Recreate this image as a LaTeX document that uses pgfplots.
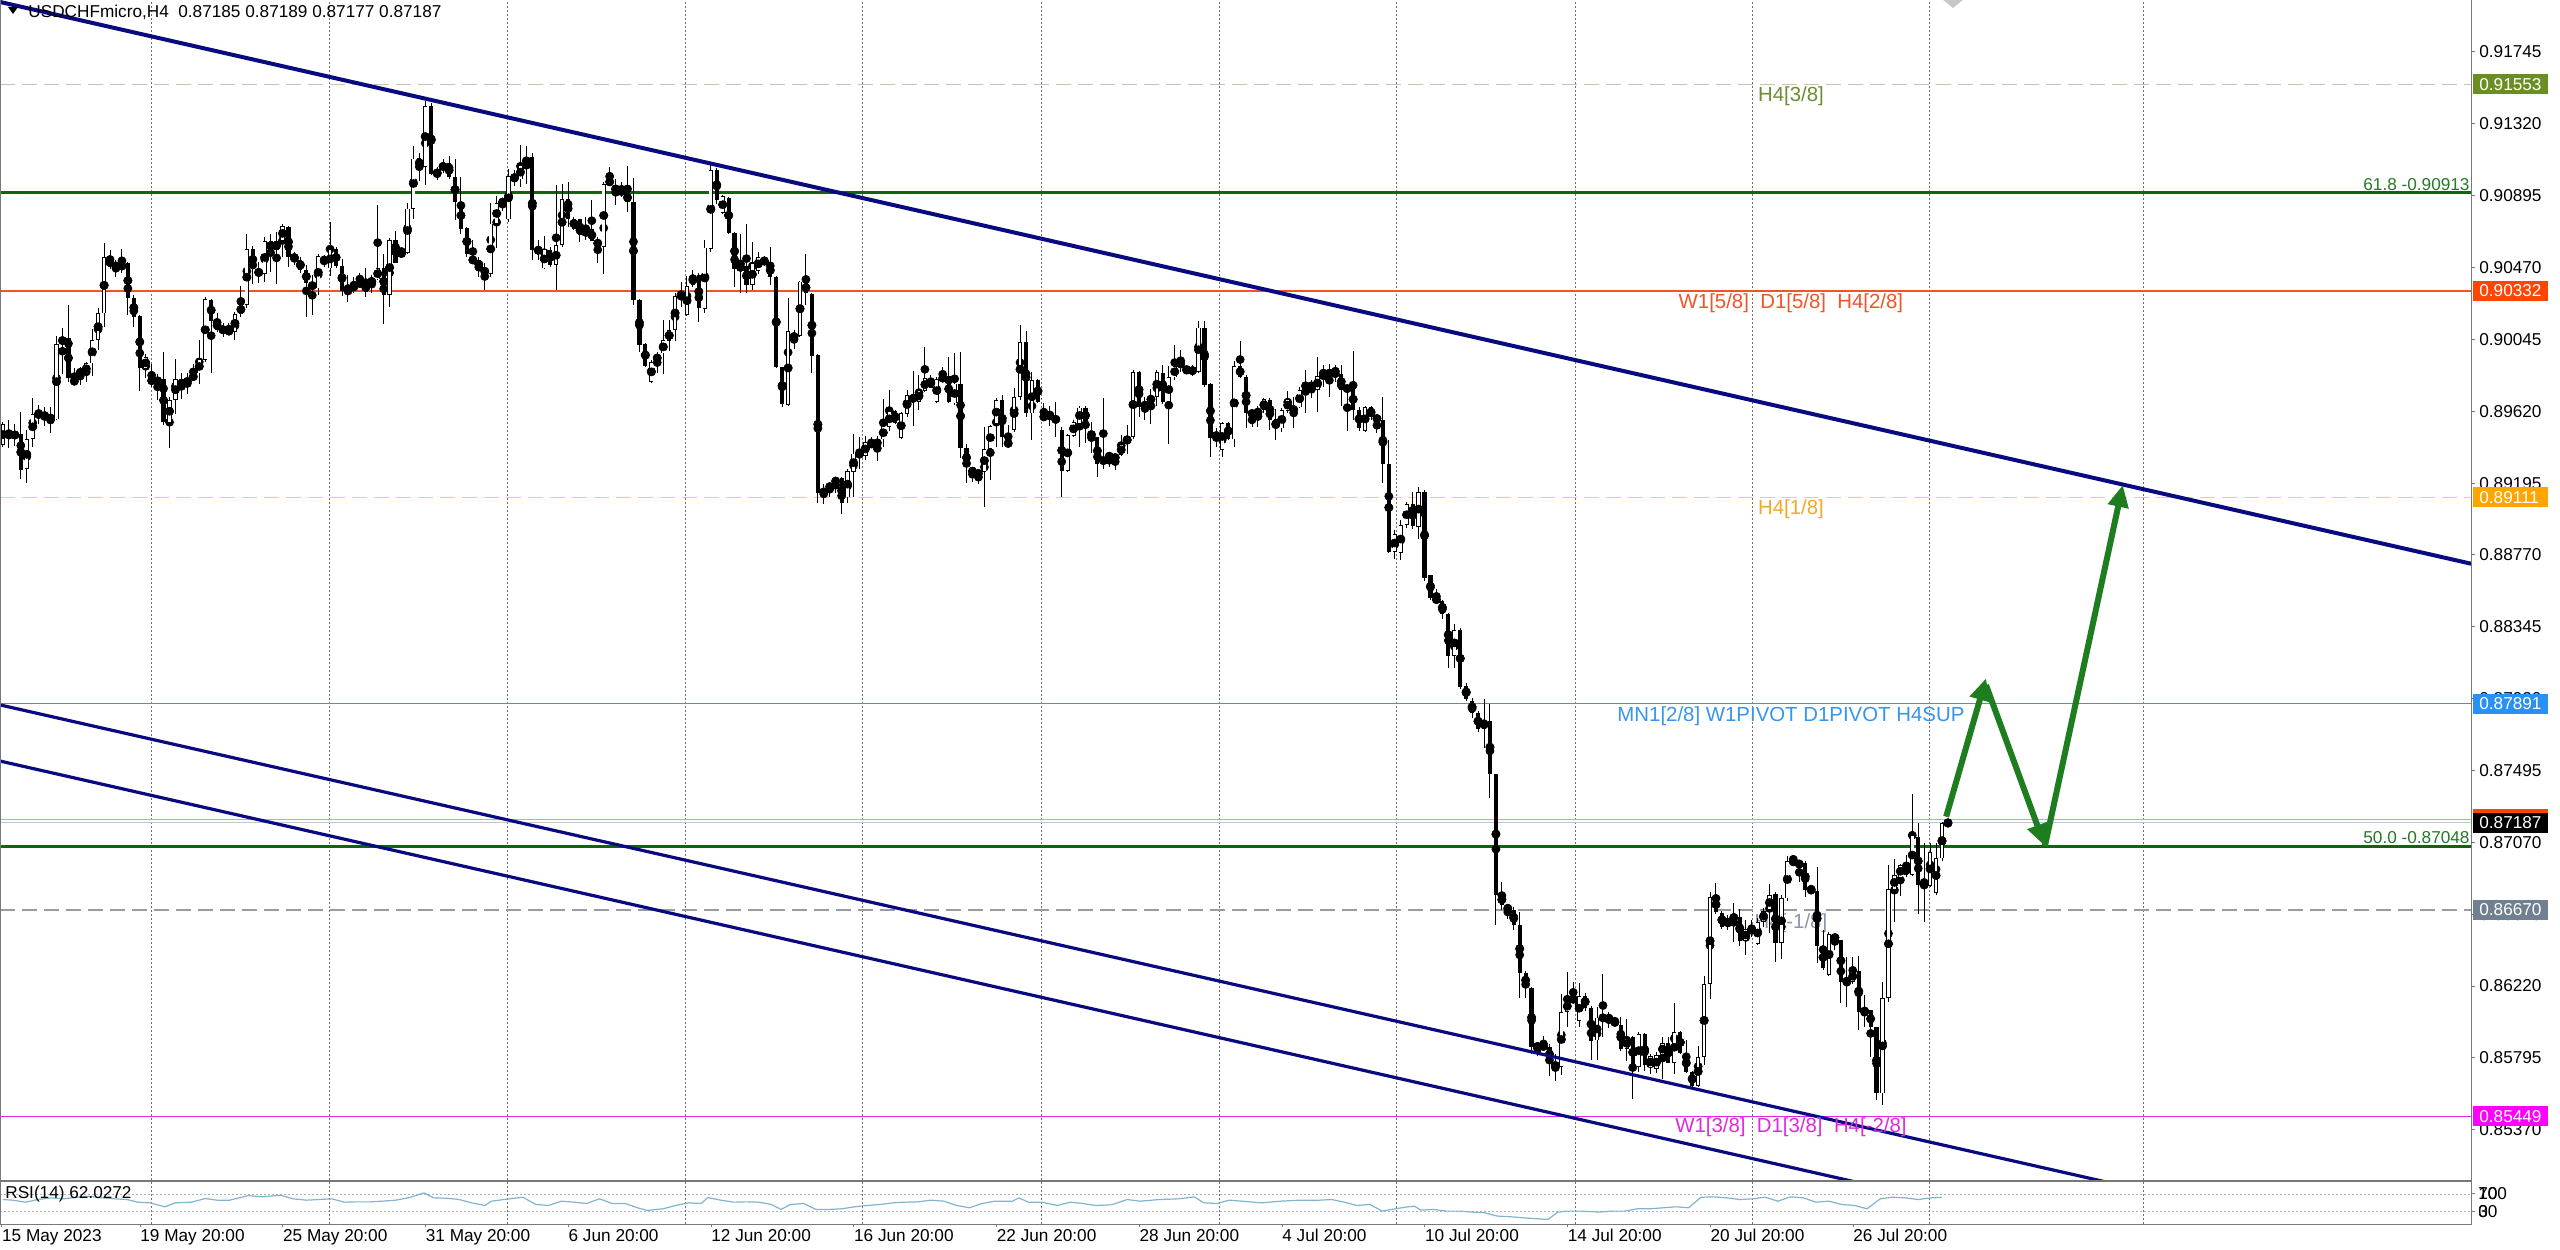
\documentclass[border=0pt]{standalone}
\usepackage{fontspec}
\setmainfont{Liberation Sans}
\usepackage{pgfplots}
\pgfplotsset{compat=1.18}
\usepackage{pgfplotstable}
\usetikzlibrary{arrows.meta}

\definecolor{navyline}{RGB}{10,10,128}
\definecolor{fibgreen}{RGB}{18,100,18}
\definecolor{fibtext}{RGB}{40,120,40}
\definecolor{lvlorange}{RGB}{240,85,40}
\definecolor{lvlyellow}{RGB}{245,205,120}
\definecolor{lvlbeige}{RGB}{200,196,172}
\definecolor{lvlblue}{RGB}{55,150,235}
\definecolor{lvlgrey}{RGB}{150,155,165}
\definecolor{lvlmag}{RGB}{225,40,225}
\definecolor{olivebox}{RGB}{107,142,35}
\definecolor{olivetext}{RGB}{110,140,50}
\definecolor{orangered}{RGB}{255,69,0}
\definecolor{orangebox}{RGB}{255,165,0}
\definecolor{orangetext}{RGB}{240,170,40}
\definecolor{bluebox}{RGB}{40,145,245}
\definecolor{slatebox}{RGB}{112,128,144}
\definecolor{slatetext}{RGB}{140,150,170}
\definecolor{magbox}{RGB}{255,0,255}
\definecolor{rsiblue}{RGB}{130,180,205}
\definecolor{arrowgreen}{RGB}{30,125,30}
\definecolor{gridgrey}{RGB}{110,110,110}
\definecolor{framegrey}{RGB}{120,120,120}

\newcommand\tf{\fontsize{8.6}{10}\selectfont}
\newcommand\lf{\fontsize{10.2}{12}\selectfont}

\pgfplotstableread{
i o h l c
0 0.89420 0.89558 0.89411 0.89545
1 0.89480 0.89572 0.89407 0.89482
2 0.89480 0.89545 0.89415 0.89484
3 0.89486 0.89618 0.89217 0.89273
4 0.89277 0.89509 0.89194 0.89454
5 0.89456 0.89697 0.89407 0.89602
6 0.89602 0.89657 0.89545 0.89612
7 0.89604 0.89647 0.89533 0.89584
8 0.89584 0.89647 0.89489 0.89578
9 0.89572 0.90065 0.89568 0.90018
10 0.90018 0.90111 0.89840 0.90057
11 0.90057 0.90249 0.89795 0.89815
12 0.89815 0.89880 0.89773 0.89781
13 0.89858 0.89884 0.89773 0.89842
14 0.89840 0.89913 0.89795 0.89903
15 0.89903 0.90105 0.89829 0.90041
16 0.90041 0.90229 0.89982 0.90199
17 0.90199 0.90617 0.90116 0.90530
18 0.90530 0.90574 0.90465 0.90471
19 0.90501 0.90519 0.90416 0.90456
20 0.90456 0.90584 0.90440 0.90501
21 0.90499 0.90505 0.90189 0.90288
22 0.90288 0.90308 0.90120 0.90180
23 0.90184 0.90189 0.89742 0.89878
24 0.89874 0.89959 0.89815 0.89939
25 0.89815 0.89903 0.89766 0.89789
26 0.89785 0.89840 0.89691 0.89815
27 0.89815 0.89969 0.89539 0.89558
28 0.89553 0.89706 0.89407 0.89687
29 0.89687 0.89933 0.89604 0.89811
30 0.89811 0.89844 0.89691 0.89756
31 0.89789 0.89848 0.89722 0.89805
32 0.89809 0.89903 0.89805 0.89844
33 0.89844 0.90041 0.89785 0.89927
34 0.89923 0.90294 0.89913 0.90282
35 0.90282 0.90286 0.89848 0.90156
36 0.90156 0.90203 0.90091 0.90105
37 0.90105 0.90144 0.90061 0.90099
38 0.90101 0.90144 0.90071 0.90087
39 0.90087 0.90209 0.90041 0.90193
40 0.90193 0.90361 0.90180 0.90252
41 0.90249 0.90668 0.90229 0.90578
42 0.90578 0.90598 0.90373 0.90460
43 0.90452 0.90505 0.90377 0.90432
44 0.90432 0.90653 0.90387 0.90629
45 0.90629 0.90672 0.90446 0.90574
46 0.90574 0.90682 0.90373 0.90629
47 0.90629 0.90728 0.90534 0.90716
48 0.90712 0.90716 0.90475 0.90534
49 0.90544 0.90564 0.90485 0.90515
50 0.90515 0.90534 0.90440 0.90456
51 0.90456 0.90485 0.90180 0.90381
52 0.90381 0.90426 0.90189 0.90347
53 0.90347 0.90550 0.90308 0.90538
54 0.90538 0.90544 0.90475 0.90491
55 0.90465 0.90741 0.90420 0.90578
56 0.90584 0.90594 0.90465 0.90479
57 0.90483 0.90523 0.90302 0.90333
58 0.90337 0.90426 0.90268 0.90329
59 0.90337 0.90416 0.90318 0.90377
60 0.90375 0.90440 0.90367 0.90379
61 0.90327 0.90465 0.90298 0.90377
62 0.90377 0.90426 0.90318 0.90400
63 0.90400 0.90840 0.90396 0.90469
64 0.90471 0.90554 0.90136 0.90308
65 0.90308 0.90643 0.90235 0.90633
66 0.90633 0.90688 0.90495 0.90499
67 0.90544 0.90594 0.90538 0.90564
68 0.90560 0.90850 0.90554 0.90820
69 0.90820 0.91189 0.90761 0.91116
70 0.91116 0.91150 0.90984 0.91063
71 0.91063 0.91457 0.90956 0.91426
72 0.91426 0.91445 0.91018 0.91023
73 0.91008 0.91063 0.90988 0.91051
74 0.91047 0.91110 0.91027 0.91090
75 0.91090 0.91130 0.90992 0.91004
76 0.91004 0.91110 0.90751 0.90860
77 0.90860 0.91008 0.90669 0.90696
78 0.90702 0.90712 0.90534 0.90550
79 0.90519 0.90633 0.90499 0.90513
80 0.90515 0.90531 0.90416 0.90465
81 0.90465 0.90499 0.90337 0.90432
82 0.90432 0.90854 0.90416 0.90732
83 0.90732 0.90893 0.90584 0.90850
84 0.90850 0.90885 0.90807 0.90866
85 0.90755 0.91051 0.90741 0.91012
86 0.91012 0.91047 0.90952 0.90992
87 0.90992 0.91195 0.90945 0.91077
88 0.91077 0.91189 0.90964 0.91126
89 0.91126 0.91150 0.90515 0.90574
90 0.90574 0.90633 0.90515 0.90570
91 0.90465 0.90657 0.90460 0.90578
92 0.90578 0.90594 0.90475 0.90485
93 0.90485 0.90958 0.90337 0.90603
94 0.90603 0.90968 0.90594 0.90874
95 0.90879 0.90978 0.90712 0.90761
96 0.90761 0.90771 0.90692 0.90702
97 0.90755 0.90761 0.90623 0.90663
98 0.90663 0.90767 0.90633 0.90696
99 0.90696 0.90870 0.90625 0.90629
100 0.90633 0.90653 0.90499 0.90598
101 0.90594 0.90978 0.90432 0.90964
102 0.90964 0.91063 0.90958 0.90992
103 0.90942 0.90992 0.90840 0.90929
104 0.90923 0.90978 0.90889 0.90917
105 0.90909 0.91071 0.90801 0.90860
106 0.90860 0.90998 0.90249 0.90278
107 0.90278 0.90288 0.89973 0.90012
108 0.90018 0.90022 0.89884 0.89888
109 0.89795 0.89923 0.89791 0.89913
110 0.89913 0.89973 0.89844 0.89959
111 0.89963 0.90160 0.89840 0.90041
112 0.90038 0.90160 0.89978 0.90101
113 0.90101 0.90318 0.90038 0.90302
114 0.90304 0.90387 0.90235 0.90300
115 0.90189 0.90420 0.90183 0.90361
116 0.90367 0.90456 0.90357 0.90426
117 0.90426 0.90436 0.90150 0.90229
118 0.90229 0.90633 0.90199 0.90590
119 0.90584 0.91077 0.90564 0.91047
120 0.91047 0.91057 0.90846 0.90874
121 0.90791 0.90899 0.90787 0.90893
122 0.90885 0.90889 0.90672 0.90676
123 0.90676 0.90682 0.90353 0.90459
124 0.90473 0.90668 0.90318 0.90469
125 0.90479 0.90728 0.90318 0.90367
126 0.90367 0.90623 0.90337 0.90495
127 0.90452 0.90564 0.90432 0.90534
128 0.90534 0.90538 0.90479 0.90485
129 0.90495 0.90594 0.90367 0.90416
130 0.90416 0.90420 0.89874 0.89884
131 0.89884 0.89884 0.89647 0.89663
132 0.89657 0.90288 0.89651 0.90097
133 0.90065 0.90101 0.89992 0.90059
134 0.90067 0.90392 0.90061 0.90387
135 0.90387 0.90554 0.90249 0.90318
136 0.90314 0.90318 0.89848 0.89947
137 0.89953 0.89959 0.89079 0.89135
138 0.89131 0.89194 0.89071 0.89158
139 0.89154 0.89204 0.89115 0.89194
140 0.89194 0.89233 0.89135 0.89223
141 0.89223 0.89229 0.89012 0.89076
142 0.89111 0.89282 0.89076 0.89269
143 0.89263 0.89489 0.89115 0.89371
144 0.89369 0.89470 0.89282 0.89365
145 0.89355 0.89474 0.89332 0.89440
146 0.89440 0.89466 0.89401 0.89415
147 0.89415 0.89474 0.89328 0.89454
148 0.89454 0.89696 0.89411 0.89533
149 0.89529 0.89746 0.89505 0.89624
150 0.89624 0.89631 0.89545 0.89549
151 0.89460 0.89618 0.89454 0.89608
152 0.89608 0.89746 0.89588 0.89716
153 0.89716 0.89860 0.89533 0.89677
154 0.89677 0.89834 0.89627 0.89742
155 0.89742 0.90002 0.89736 0.89815
156 0.89815 0.89834 0.89756 0.89762
157 0.89677 0.89825 0.89671 0.89809
158 0.89805 0.89884 0.89795 0.89829
159 0.89829 0.89939 0.89671 0.89677
160 0.89667 0.89967 0.89657 0.89785
161 0.89785 0.89972 0.89342 0.89401
162 0.89401 0.89430 0.89194 0.89292
163 0.89288 0.89292 0.89204 0.89243
164 0.89243 0.89269 0.89194 0.89263
165 0.89263 0.89529 0.89052 0.89395
166 0.89395 0.89539 0.89213 0.89533
167 0.89545 0.89702 0.89411 0.89687
168 0.89687 0.89716 0.89411 0.89470
169 0.89407 0.89539 0.89401 0.89454
170 0.89509 0.89756 0.89499 0.89706
171 0.89706 0.90130 0.89687 0.90032
172 0.90032 0.90097 0.89588 0.89608
173 0.89608 0.89854 0.89450 0.89805
174 0.89805 0.89809 0.89667 0.89677
175 0.89572 0.89667 0.89564 0.89604
176 0.89600 0.89651 0.89533 0.89596
177 0.89588 0.89677 0.89470 0.89558
178 0.89509 0.89529 0.89115 0.89269
179 0.89269 0.89489 0.89263 0.89480
180 0.89474 0.89568 0.89470 0.89558
181 0.89549 0.89651 0.89411 0.89643
182 0.89643 0.89651 0.89430 0.89549
183 0.89499 0.89558 0.89371 0.89466
184 0.89466 0.89470 0.89233 0.89308
185 0.89308 0.89697 0.89282 0.89348
186 0.89357 0.89367 0.89292 0.89353
187 0.89332 0.89371 0.89273 0.89361
188 0.89361 0.89480 0.89355 0.89426
189 0.89426 0.89539 0.89367 0.89474
190 0.89470 0.89864 0.89454 0.89854
191 0.89854 0.89860 0.89584 0.89643
192 0.89637 0.89706 0.89568 0.89677
193 0.89677 0.89756 0.89549 0.89706
194 0.89706 0.89864 0.89651 0.89854
195 0.89848 0.89894 0.89663 0.89677
196 0.89677 0.89888 0.89426 0.89821
197 0.89821 0.90012 0.89805 0.89888
198 0.89888 0.89986 0.89854 0.89913
199 0.89854 0.89894 0.89840 0.89874
200 0.89868 0.89894 0.89829 0.89854
201 0.89854 0.90156 0.89848 0.90116
202 0.90116 0.90156 0.89762 0.89775
203 0.89781 0.89785 0.89348 0.89466
204 0.89466 0.89519 0.89411 0.89486
205 0.89391 0.89558 0.89348 0.89553
206 0.89553 0.89558 0.89450 0.89454
207 0.89454 0.89919 0.89411 0.89888
208 0.89888 0.90038 0.89815 0.89821
209 0.89821 0.89834 0.89519 0.89608
210 0.89610 0.89612 0.89529 0.89606
211 0.89604 0.89651 0.89529 0.89627
212 0.89627 0.89702 0.89612 0.89691
213 0.89691 0.89697 0.89513 0.89572
214 0.89572 0.89631 0.89450 0.89519
215 0.89519 0.89637 0.89499 0.89627
216 0.89624 0.89742 0.89608 0.89691
217 0.89612 0.89702 0.89519 0.89651
218 0.89643 0.89762 0.89637 0.89746
219 0.89746 0.89864 0.89612 0.89795
220 0.89795 0.89805 0.89697 0.89746
221 0.89746 0.89939 0.89618 0.89829
222 0.89829 0.89894 0.89766 0.89864
223 0.89829 0.89900 0.89706 0.89864
224 0.89871 0.89895 0.89792 0.89842
225 0.89842 0.89895 0.89654 0.89748
226 0.89757 0.89777 0.89507 0.89751
227 0.89754 0.89977 0.89571 0.89630
228 0.89630 0.89645 0.89507 0.89518
229 0.89507 0.89654 0.89498 0.89645
230 0.89645 0.89654 0.89571 0.89586
231 0.89580 0.89586 0.89489 0.89574
232 0.89571 0.89704 0.89195 0.89306
233 0.89312 0.89454 0.88783 0.88791
234 0.88791 0.88918 0.88747 0.88894
235 0.88783 0.88977 0.88741 0.88947
236 0.88947 0.89086 0.88930 0.89071
237 0.89071 0.89145 0.88924 0.88939
238 0.88939 0.89174 0.88865 0.89145
239 0.89145 0.89153 0.88615 0.88635
240 0.88653 0.88653 0.88506 0.88518
241 0.88509 0.88571 0.88482 0.88503
242 0.88497 0.88506 0.88394 0.88424
243 0.88424 0.88429 0.88100 0.88173
244 0.88173 0.88359 0.88100 0.88329
245 0.88329 0.88341 0.87976 0.87988
246 0.87997 0.88012 0.87909 0.87917
247 0.87909 0.87923 0.87806 0.87835
248 0.87835 0.87850 0.87723 0.87741
249 0.87741 0.87917 0.87629 0.87791
250 0.87791 0.87888 0.87335 0.87476
251 0.87476 0.87476 0.86584 0.86761
252 0.86761 0.86840 0.86673 0.86702
253 0.86684 0.86702 0.86614 0.86678
254 0.86673 0.86687 0.86555 0.86584
255 0.86584 0.86658 0.86152 0.86299
256 0.86299 0.86311 0.86152 0.86211
257 0.86211 0.86216 0.85819 0.85857
258 0.85866 0.85893 0.85810 0.85860
259 0.85857 0.85922 0.85834 0.85869
260 0.85863 0.85878 0.85687 0.85775
261 0.85760 0.85819 0.85657 0.85740
262 0.85740 0.86172 0.85693 0.86069
263 0.86069 0.86305 0.85981 0.86134
264 0.86128 0.86246 0.86122 0.86158
265 0.86016 0.86240 0.85981 0.86164
266 0.86164 0.86181 0.86075 0.86093
267 0.86093 0.86105 0.85781 0.85899
268 0.85899 0.86099 0.85781 0.86034
269 0.86025 0.86290 0.85922 0.86040
270 0.86034 0.86069 0.85975 0.86028
271 0.86008 0.86040 0.85987 0.86002
272 0.85987 0.86040 0.85834 0.85849
273 0.85849 0.86025 0.85775 0.85916
274 0.85916 0.85922 0.85554 0.85740
275 0.85740 0.85946 0.85710 0.85937
276 0.85937 0.85946 0.85716 0.85752
277 0.85740 0.85819 0.85702 0.85805
278 0.85728 0.85832 0.85708 0.85812
279 0.85812 0.85921 0.85668 0.85885
280 0.85885 0.85917 0.85763 0.85767
281 0.85767 0.86122 0.85700 0.85950
282 0.85950 0.85956 0.85818 0.85826
283 0.85818 0.85901 0.85704 0.85714
284 0.85714 0.85720 0.85625 0.85629
285 0.85629 0.85866 0.85625 0.85802
286 0.85802 0.86280 0.85753 0.86232
287 0.86232 0.86778 0.86142 0.86745
288 0.86745 0.86832 0.86646 0.86660
289 0.86654 0.86666 0.86556 0.86571
290 0.86571 0.86640 0.86552 0.86621
291 0.86628 0.86713 0.86483 0.86625
292 0.86627 0.86674 0.86457 0.86489
293 0.86489 0.86615 0.86404 0.86556
294 0.86554 0.86611 0.86512 0.86550
295 0.86469 0.86621 0.86463 0.86601
296 0.86601 0.86686 0.86571 0.86666
297 0.86670 0.86824 0.86536 0.86759
298 0.86765 0.86778 0.86364 0.86473
299 0.86473 0.86759 0.86384 0.86739
300 0.86739 0.86989 0.86725 0.86962
301 0.86962 0.86995 0.86946 0.86950
302 0.86944 0.86950 0.86838 0.86940
303 0.86946 0.86962 0.86749 0.86792
304 0.86794 0.86804 0.86773 0.86790
305 0.86784 0.86922 0.86358 0.86457
306 0.86457 0.86556 0.86319 0.86325
307 0.86286 0.86542 0.86280 0.86528
308 0.86522 0.86536 0.86433 0.86493
309 0.86493 0.86496 0.86122 0.86246
310 0.86252 0.86390 0.86098 0.86248
311 0.86246 0.86394 0.86232 0.86311
312 0.86311 0.86398 0.85964 0.86069
313 0.86055 0.86167 0.85980 0.86078
314 0.86078 0.86082 0.85802 0.85976
315 0.85976 0.85980 0.85546 0.85586
316 0.85586 0.86246 0.85517 0.86148
317 0.86148 0.86936 0.86128 0.86792
318 0.86792 0.86976 0.86601 0.86877
319 0.86863 0.86942 0.86753 0.86936
320 0.86936 0.86995 0.86867 0.86877
321 0.86877 0.87356 0.86871 0.87114
322 0.87104 0.87187 0.86646 0.86818
323 0.86820 0.87068 0.86601 0.86816
324 0.86812 0.87068 0.86808 0.87015
325 0.86773 0.87064 0.86759 0.86976
326 0.86976 0.87192 0.86962 0.87186
327 0.87185 0.87189 0.87177 0.87187
}\candles

\pgfplotstableread{
i r
0 56.9
1.6 55.4
3.8 50.8
5.9 56.9
8.1 60.8
10.2 58.5
12.4 62.3
14.5 64.6
16.7 60.8
18.8 58.5
20.9 56.9
22.6 50.8
24.7 49.2
27.2 40.0
29.0 49.2
31.7 50.8
34.0 59.2
36.0 55.4
38.1 55.4
41.3 66.2
43.5 63.1
46.7 66.9
48.8 58.5
51.0 55.4
53.1 56.9
55.3 58.5
57.4 50.8
59.5 51.5
61.7 51.5
63.8 53.1
66.0 55.4
68.1 60.8
70.8 72.3
72.4 60.8
74.6 60.0
76.7 56.9
78.8 49.2
81.0 43.1
82.1 53.1
84.2 56.9
87.4 62.3
89.6 45.4
91.7 43.1
93.9 53.1
96.0 50.8
98.1 47.7
100.3 58.5
102.4 47.7
104.6 47.7
106.7 37.7
108.3 31.5
111.0 35.4
113.1 43.1
115.3 49.2
117.4 47.7
118.5 61.5
120.7 55.4
122.8 50.8
125.0 51.5
127.1 50.8
129.2 45.4
130.8 33.9
132.4 45.4
134.6 47.7
136.7 33.9
138.9 33.9
141.0 35.4
143.2 40.0
145.3 43.1
147.5 45.4
149.6 49.2
151.7 50.8
153.9 51.5
156.0 55.4
158.2 53.1
160.3 43.1
162.5 37.7
164.6 47.7
166.8 53.1
169.7 53.1
170.8 60.8
172.4 50.8
174.6 50.8
177.3 43.1
179.4 50.8
181.5 47.7
183.7 43.1
186.4 44.6
189.0 56.9
191.2 53.1
194.4 56.9
197.6 58.5
200.3 63.1
201.9 49.2
204.1 47.7
206.2 55.4
208.3 53.1
211.6 49.2
214.8 53.1
218.0 55.4
221.2 55.4
223.4 56.9
225.5 50.8
227.6 43.1
229.8 45.4
231.9 30.0
234.1 35.4
236.2 40.0
237.3 41.5
238.4 32.3
240.5 33.9
242.7 30.0
244.8 30.0
246.9 27.7
249.1 26.2
251.2 18.5
253.4 16.9
255.5 14.6
257.7 12.3
259.8 10.8
261.4 27.7
263.0 30.0
265.2 30.0
268.4 27.7
270.5 30.0
272.7 30.0
274.8 35.4
277.0 35.4
279.1 37.7
281.3 40.0
283.4 37.7
285.5 62.3
287.7 63.1
289.8 60.8
292.0 56.9
294.1 58.5
296.3 62.3
298.4 53.1
300.5 63.1
302.7 60.8
304.8 50.8
307.0 53.1
309.1 45.4
311.3 43.1
313.4 35.4
315.6 58.5
317.7 62.3
319.8 60.8
322.0 56.9
324.1 60.8
326.0 62.0
}\rsi

\begin{document}
\begin{tikzpicture}
\fill[white] (0,0) rectangle (1280pt,624.5pt);

% ---------------- main price panel ----------------
\begin{axis}[
  at={(0pt,34.5pt)}, anchor=south west, scale only axis,
  width=1236pt, height=590pt,
  xmin=-0.5, xmax=415.1, ymin=0.850729, ymax=0.920526,
  axis line style={draw=none},
  clip mode=individual,
  scaled y ticks=false,
  xtick={24.89,54.98,84.74,114.83,144.59,174.52,204.45,234.37,264.30,294.22,323.98,359.96},
  xticklabels={}, xtick style={draw=none},
  xmajorgrids,
  x grid style={gridgrey, line width=0.5pt, dash pattern=on 1pt off 1pt},
  ytick={0.91745,0.91320,0.90895,0.90470,0.90045,0.89620,0.89195,0.88770,0.88345,0.87920,0.87495,0.87070,0.86645,0.86220,0.85795,0.85370},
  yticklabels={0.91745,0.91320,0.90895,0.90470,0.90045,0.89620,0.89195,0.88770,0.88345,0.87920,0.87495,0.87070,0.86645,0.86220,0.85795,0.85370},
  ytick pos=right, yticklabel pos=right,
  tick align=outside, major tick length=1.5pt,
  ytick style={framegrey, line width=0.5pt},
  yticklabel style={font=\tf, anchor=west, inner sep=0pt, xshift=2pt},
]
% level lines
\addplot[lvlbeige, line width=0.7pt, dash pattern=on 7.5pt off 3.5pt] coordinates {(-0.5,0.91553) (415.1,0.91553)};
\addplot[fibgreen, line width=1.5pt] coordinates {(-0.5,0.90913) (415.1,0.90913)};
\addplot[lvlorange, line width=0.7pt] coordinates {(-0.5,0.90332) (415.1,0.90332)};
\addplot[lvlyellow, line width=0.7pt, dash pattern=on 7.5pt off 3.5pt] coordinates {(-0.5,0.89111) (415.1,0.89111)};
\addplot[lvlblue, line width=0.8pt] coordinates {(-0.5,0.87891) (415.1,0.87891)};
\addplot[orangered!55, line width=0.4pt] coordinates {(-0.5,0.87208) (415.1,0.87208)};
\addplot[black!22, line width=0.4pt] coordinates {(-0.5,0.87187) (415.1,0.87187)};
\addplot[fibgreen, line width=1.5pt] coordinates {(-0.5,0.87048) (415.1,0.87048)};
\addplot[lvlgrey, line width=0.7pt, dash pattern=on 7.5pt off 3.5pt] coordinates {(-0.5,0.86670) (415.1,0.86670)};
\addplot[lvlmag, line width=0.7pt] coordinates {(-0.5,0.85449) (415.1,0.85449)};

\node[font=\lf, text=slatetext, yshift=-6.5pt] at (axis cs:300.6,0.86670) {H4[-1/8]};

% candles: wicks, bodies, hollow insides
\addplot[only marks, mark=none, forget plot, error bars/.cd, y dir=both, y explicit, error mark=none,
  error bar style={draw=black, line width=0.5pt}]
  table[x=i, y expr={(\thisrow{h}+\thisrow{l})/2}, y error expr={(\thisrow{h}-\thisrow{l})/2}] {\candles};
\addplot[only marks, mark=none, forget plot, error bars/.cd, y dir=both, y explicit, error mark=none,
  error bar style={draw=black, line width=2.1pt}]
  table[x=i, y expr={(\thisrow{o}+\thisrow{c})/2}, y error expr={max(abs(\thisrow{c}-\thisrow{o})/2,0.00003)}] {\candles};
\addplot[only marks, mark=none, forget plot, error bars/.cd, y dir=both, y explicit, error mark=none,
  error bar style={draw=white, line width=1.35pt}]
  table[x=i, y expr={(\thisrow{o}+\thisrow{c})/2}, y error expr={ifthenelse(\thisrow{c}>\thisrow{o}, max((\thisrow{c}-\thisrow{o})/2-0.00005,0), 0)}] {\candles};

% trend channel
\addplot[navyline, line width=2pt] coordinates {(-0.5,0.92041) (415.1,0.88717)};
\addplot[navyline, line width=1.6pt] coordinates {(-0.5,0.87883) (415.1,0.84571)};
\addplot[navyline, line width=1.6pt] coordinates {(-0.5,0.87551) (415.1,0.84234)};

% projection arrows
\addplot[arrowgreen, line width=3pt, -{Triangle[length=11pt,width=10pt]}] coordinates {(326.7,0.87222) (333.4,0.88040)};
\addplot[arrowgreen, line width=3pt, -{Triangle[length=11pt,width=10pt]}] coordinates {(333.4,0.88000) (343.3,0.87048)};
\addplot[arrowgreen, line width=3pt, -{Triangle[length=11pt,width=10pt]}] coordinates {(343.3,0.87048) (356.4,0.89184)};

% level texts
\node[font=\lf, text=olivetext, yshift=-6pt] at (axis cs:300.6,0.91553) {H4[3/8]};
\node[font=\lf, text=lvlorange, yshift=-6pt] at (axis cs:300.6,0.90332) {W1[5/8]\ \ D1[5/8]\ \ H4[2/8]};
\node[font=\lf, text=orangetext, yshift=-6pt] at (axis cs:300.6,0.89111) {H4[1/8]};
\node[font=\lf, text=lvlblue, yshift=-6.3pt] at (axis cs:300.6,0.87891) {MN1[2/8] W1PIVOT D1PIVOT H4SUP};
\node[font=\lf, text=lvlmag, yshift=-5.5pt] at (axis cs:300.6,0.85449) {W1[3/8]\ \ D1[3/8]\ \ H4[-2/8]};
\node[font=\tf, text=fibtext, anchor=base east, inner sep=0pt, xshift=-1pt, yshift=1.2pt] at (axis cs:415.1,0.90913) {61.8 -0.90913};
\node[font=\tf, text=fibtext, anchor=base east, inner sep=0pt, xshift=-1pt, yshift=1.2pt] at (axis cs:415.1,0.87048) {50.0 -0.87048};

% top grey object
\fill[black!22] (axis cs:326.2,0.920526) -- (axis cs:329.5,0.920526) -- (axis cs:327.85,0.92005) -- cycle;

% frame
\draw[framegrey, line width=0.5pt] (rel axis cs:0,1) -- (rel axis cs:0,0) -- (rel axis cs:1,0) -- (rel axis cs:1,1);

\coordinate (b1) at (axis cs:415.1,0.91553);
\coordinate (b2) at (axis cs:415.1,0.90332);
\coordinate (b3) at (axis cs:415.1,0.89111);
\coordinate (b4) at (axis cs:415.1,0.87891);
\coordinate (b5) at (axis cs:415.1,0.87208);
\coordinate (b6) at (axis cs:415.1,0.87187);
\coordinate (b7) at (axis cs:415.1,0.86670);
\coordinate (b8) at (axis cs:415.1,0.85449);
\end{axis}

% ---------------- RSI panel ----------------
\begin{axis}[
  at={(0pt,12.5pt)}, anchor=south west, scale only axis,
  width=1236pt, height=21.5pt,
  xmin=-0.5, xmax=415.1, ymin=0, ymax=100,
  axis line style={draw=none},
  xtick={-0.2,23.04,47.04,71.04,95.04,119.04,143.04,167.04,191.04,215.04,239.04,263.04,287.04,311.04},
  xticklabels={15 May 2023,19 May 20:00,25 May 20:00,31 May 20:00,6 Jun 20:00,12 Jun 20:00,16 Jun 20:00,22 Jun 20:00,28 Jun 20:00,4 Jul 20:00,10 Jul 20:00,14 Jul 20:00,20 Jul 20:00,26 Jul 20:00},
  xtick pos=bottom,
  xticklabel style={font=\tf, anchor=north west, inner sep=0pt, yshift=-1pt},
  extra x ticks={24.89,54.98,84.74,114.83,144.59,174.52,204.45,234.37,264.30,294.22,323.98,359.96},
  extra x tick labels={},
  extra x tick style={grid=major, tick style={draw=none}},
  x grid style={gridgrey, line width=0.5pt, dash pattern=on 1pt off 1pt},
  ytick={30,70},
  yticklabels={{\rlap{30}0},{\rlap{100}70}},
  ytick pos=right, yticklabel pos=right,
  ymajorgrids,
  y grid style={black!30, line width=0.4pt, dash pattern=on 1pt off 1pt},
  tick align=outside, major tick length=1.5pt,
  tick style={framegrey, line width=0.5pt},
  yticklabel style={font=\tf, anchor=west, inner sep=0pt, xshift=1.5pt},
]
\addplot[rsiblue, line width=0.6pt] table[x=i, y=r] {\rsi};
\draw[framegrey, line width=0.5pt] (rel axis cs:0,0) rectangle (rel axis cs:1,1);
\node[font=\tf, anchor=west, inner sep=0pt] at (rel axis cs:0.002,0.7) {RSI(14) 62.0272};
\end{axis}

% ---------------- price boxes on the scale ----------------
\fill[olivebox] ([xshift=0.5pt,yshift=-5pt]b1) rectangle ([xshift=38pt,yshift=5pt]b1);
\node[font=\tf, text=white, anchor=west, inner sep=0pt] at ([xshift=3.5pt]b1) {0.91553};
\fill[orangered] ([xshift=0.5pt,yshift=-5pt]b2) rectangle ([xshift=38pt,yshift=5pt]b2);
\node[font=\tf, text=white, anchor=west, inner sep=0pt] at ([xshift=3.5pt]b2) {0.90332};
\fill[orangebox] ([xshift=0.5pt,yshift=-5pt]b3) rectangle ([xshift=38pt,yshift=5pt]b3);
\node[font=\tf, text=white, anchor=west, inner sep=0pt] at ([xshift=3.5pt]b3) {0.89111};
\fill[bluebox] ([xshift=0.5pt,yshift=-5pt]b4) rectangle ([xshift=38pt,yshift=5pt]b4);
\node[font=\tf, text=white, anchor=west, inner sep=0pt] at ([xshift=3.5pt]b4) {0.87891};
\fill[orangered] ([xshift=0.5pt,yshift=-5pt]b5) rectangle ([xshift=38pt,yshift=5pt]b5);
\fill[black] ([xshift=0.5pt,yshift=-5pt]b6) rectangle ([xshift=38pt,yshift=5pt]b6);
\node[font=\tf, text=white, anchor=west, inner sep=0pt] at ([xshift=3.5pt]b6) {0.87187};
\fill[slatebox] ([xshift=0.5pt,yshift=-5pt]b7) rectangle ([xshift=38pt,yshift=5pt]b7);
\node[font=\tf, text=white, anchor=west, inner sep=0pt] at ([xshift=3.5pt]b7) {0.86670};
\fill[magbox] ([xshift=0.5pt,yshift=-5pt]b8) rectangle ([xshift=38pt,yshift=5pt]b8);
\node[font=\tf, text=white, anchor=west, inner sep=0pt] at ([xshift=3.5pt]b8) {0.85449};

% ---------------- title ----------------
\fill[black] (4pt,621pt) -- (9pt,621pt) -- (6.5pt,617.5pt) -- cycle;
\node[font=\tf, anchor=west, inner sep=0pt] at (14pt,618.5pt) {USDCHFmicro,H4\ \ 0.87185 0.87189 0.87177 0.87187};

\pgfresetboundingbox
\useasboundingbox (0,0) rectangle (1280pt,624.5pt);
\end{tikzpicture}
\end{document}
